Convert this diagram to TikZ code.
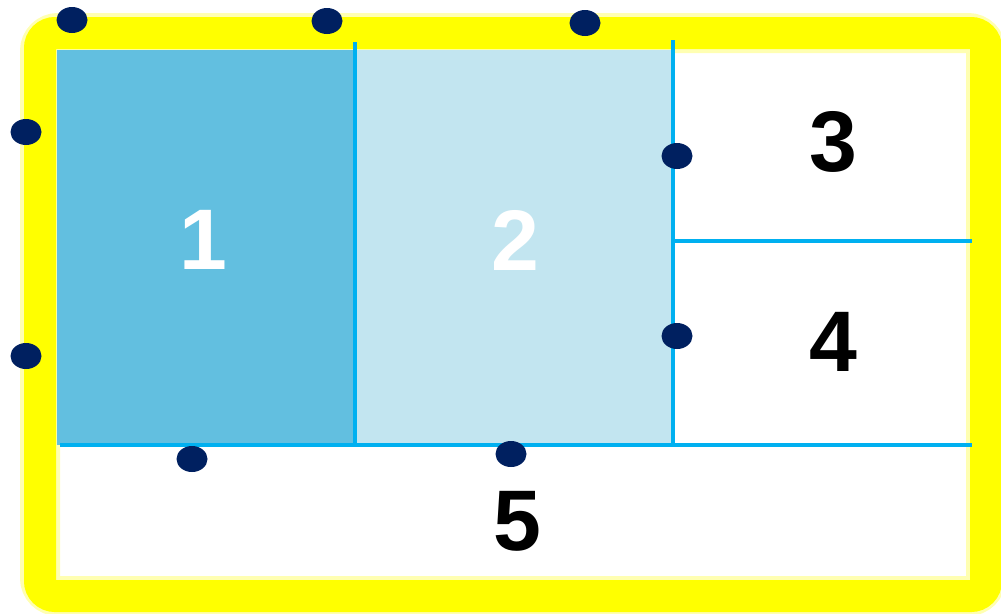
\documentclass[tikz,border=0pt]{standalone}
\usepackage{fontspec}
\setmainfont{Liberation Sans}
\usetikzlibrary{shapes.geometric}
\definecolor{planYellow}{HTML}{FFFF00}
\definecolor{planDeep}{HTML}{62BFE0}
\definecolor{planPale}{HTML}{C2E5F0}
\definecolor{planLine}{HTML}{00B0F0}
\definecolor{planDot}{HTML}{002060}

\begin{document}
\begin{tikzpicture}[x=1pt,y=-1pt,
  digit/.style={font=\fontsize{86}{86}\selectfont\bfseries,inner sep=0pt},
  dotmark/.style={ellipse,fill=planDot,minimum width=31pt,minimum height=26pt,inner sep=0pt}]
\useasboundingbox (0,0) rectangle (1001,613);
% frame
\draw[planYellow!30,line width=40pt,rounded corners=18pt] (40,33) rectangle (986,596);
\draw[planYellow,line width=32pt,rounded corners=15pt] (40,33) rectangle (986,596);
% blocks
\fill[planDeep] (57,50) rectangle (355,445);
\fill[planPale] (355,50) rectangle (673,445);
\draw[planLine,line width=4.5pt] (355,42) -- (355,445);
\draw[planLine,line width=4.5pt] (673,40) -- (673,445);
\draw[planLine,line width=4.5pt] (673,241) -- (972,241);
\draw[planLine,line width=4.5pt] (60,445) -- (972,445);
\node[digit,white] (r1) at (203,240) {1};
\node[digit,white] (r2) at (515,240) {2};
\node[digit] (r3) at (833,142) {3};
\node[digit] (r4) at (833,342) {4};
\node[digit] (r5) at (517,521) {5};
% markers
\node[dotmark] (d1) at (72,20) {};
\node[dotmark] (d2) at (327,21) {};
\node[dotmark] (d3) at (585,23) {};
\node[dotmark] (d4) at (26,132) {};
\node[dotmark] (d5) at (26,356) {};
\node[dotmark] (d6) at (192,459) {};
\node[dotmark] (d7) at (511,454) {};
\node[dotmark] (d8) at (677,156) {};
\node[dotmark] (d9) at (677,336) {};
\end{tikzpicture}
\end{document}
